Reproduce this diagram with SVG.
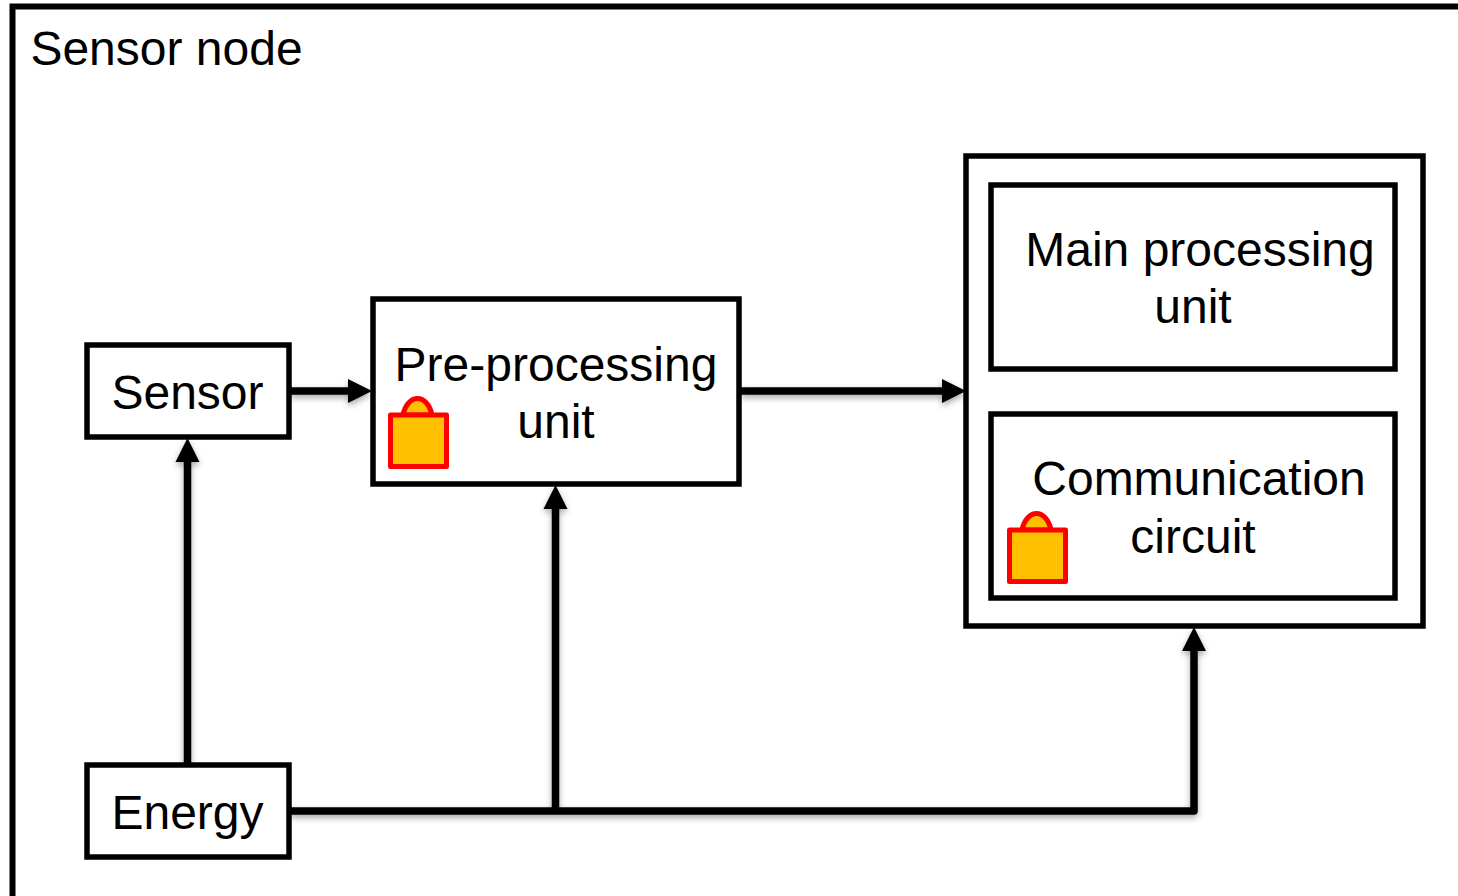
<svg xmlns="http://www.w3.org/2000/svg" width="1458" height="896" viewBox="0 0 1458 896">
<style>
.box{fill:#fff;stroke:#000;stroke-width:5.500}
text{font-family:"Liberation Sans",Arial,sans-serif;font-size:48px;fill:#000;text-anchor:middle}
.conn{fill:none;stroke:#000;stroke-width:7.500;stroke-linejoin:round}
.head{fill:#000;stroke:none}
.lock{fill:#ffc000;stroke:#f00;stroke-width:5;stroke-linejoin:round}
</style>
<defs>
<filter id="shadow" x="-10%" y="-10%" width="120%" height="120%" filterUnits="objectBoundingBox">
<feDropShadow dx="0" dy="3" stdDeviation="3" flood-color="#000" flood-opacity="0.35"/>
</filter>
</defs>
<rect width="1458" height="896" fill="#fff"/>
<g id="sensor-node"><path d="M12.500 900V6.500H1462" fill="none" stroke="#000" stroke-width="6"/>
<text x="166.500" y="65">Sensor node</text></g>
<g id="radio-group"><rect class="box" x="966" y="156" width="457" height="470"/></g>
<g id="connectors" filter="url(#shadow)">
<path class="conn" d="M290 391H349"/><path class="head" d="M348 379L372 391L348 403Z"/>
<path class="conn" d="M741 391H943"/><path class="head" d="M942 379L966 391L942 403Z"/>
<path class="conn" d="M187.500 765V460"/><path class="head" d="M175.500 462L187.500 438L199.500 462Z"/>
<path class="conn" d="M555.500 811V508"/><path class="head" d="M543.500 509L555.500 485L567.500 509Z"/>
<path class="conn" d="M290 811H1194V650"/><path class="head" d="M1182 651L1194 627L1206 651Z"/>
</g>
<g id="sensor"><rect class="box" x="87" y="345" width="202" height="92"/><text x="187.500" y="409">Sensor</text></g>
<g id="energy"><rect class="box" x="87" y="765" width="202" height="92"/><text x="187.500" y="829">Energy</text></g>
<g id="pre-processing"><rect class="box" x="373" y="299" width="366" height="185"/>
<text x="556" y="381">Pre-processing</text><text x="556" y="438">unit</text>
<path class="lock" d="M403 415C405 405 411 398.500 417.500 398.500C424 398.500 430 405 432 415Z"/>
<rect class="lock" x="390.500" y="415" width="56" height="51.500"/></g>
<g id="main-processing"><rect class="box" x="991" y="185" width="404" height="184"/>
<text x="1200" y="266">Main processing</text><text x="1193" y="323">unit</text></g>
<g id="communication"><rect class="box" x="991" y="414" width="404" height="184"/>
<text x="1199" y="495">Communication</text><text x="1193" y="553">circuit</text>
<path class="lock" d="M1022 530C1024 520 1030 513.500 1036.500 513.500C1043 513.500 1049 520 1051 530Z"/>
<rect class="lock" x="1009.500" y="530" width="56" height="51.500"/></g>
</svg>
